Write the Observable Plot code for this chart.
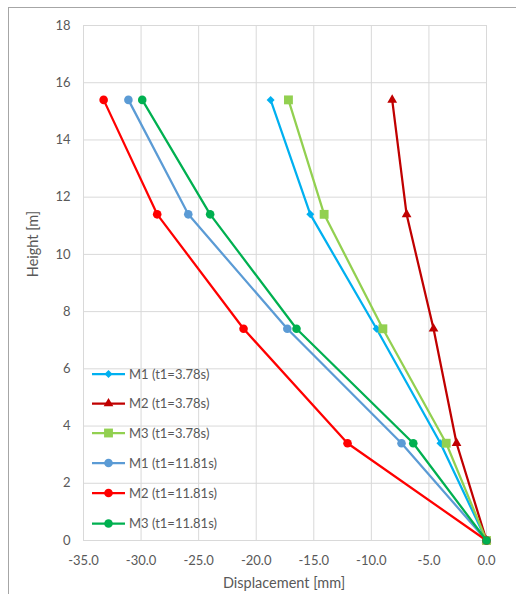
<!DOCTYPE html>
<html>
<head>
<meta charset="utf-8">
<script src="https://cdn.jsdelivr.net/npm/d3@7"></script>
<script src="https://cdn.jsdelivr.net/npm/@observablehq/plot@0.6"></script>
<style>
  html, body { margin: 0; padding: 0; background: #fff; }
  #chart { position: relative; width: 516px; height: 594px; }
  #chart svg { display: block; }
  #frame {
    position: absolute; left: 8px; top: 7px; width: 508px; height: 587px;
    border-top: 1px solid #a6a6a6; border-left: 1px solid #a6a6a6;
    box-sizing: border-box; pointer-events: none;
  }
</style>
</head>
<body>
<div id="chart"><div id="frame"></div></div>
<script>
// Storey heights [m] at which displacements were recorded
const heights = [0, 3.4, 7.4, 11.4, 15.4];

// Displacement profiles [mm] for each model and time instant
const m1_t378 = [0, -4.0, -9.55, -15.3, -18.75];
const m2_t378 = [0, -2.6, -4.6, -6.94, -8.19];
const m3_t378 = [0, -3.5, -9.0, -14.1, -17.2];
const m1_t1181 = [0, -7.38, -17.3, -25.9, -31.1];
const m2_t1181 = [0, -12.07, -21.1, -28.6, -33.25];
const m3_t1181 = [0, -6.36, -16.5, -24.0, -29.9];

const seriesNames = [
  "M1 (t1=3.78s)", "M2 (t1=3.78s)", "M3 (t1=3.78s)",
  "M1 (t1=11.81s)", "M2 (t1=11.81s)", "M3 (t1=11.81s)"
];
const seriesValues = [m1_t378, m2_t378, m3_t378, m1_t1181, m2_t1181, m3_t1181];

const xTicks = [-35, -30, -25, -20, -15, -10, -5, 0];
const yTicks = [0, 2, 4, 6, 8, 10, 12, 14, 16, 18];

// Styling per series
const seriesColors = ["#00b0f0", "#c00000", "#92d050", "#5b9bd5", "#ff0000", "#00b050"];
const seriesSymbols = ["diamond2", "triangle", "square", "circle", "circle", "circle"];
const seriesRadius = [3.6, 3.6, 5, 4.3, 4.3, 4.3];

const rows = seriesNames.flatMap((name, i) =>
  seriesValues[i].map((v, j) => ({ series: name, idx: i, disp: v, height: heights[j] }))
);

const fmtX = d => d.toFixed(1);
const textColor = "#595959";
const font = "Lato, 'Open Sans', sans-serif";

const seriesMarks = seriesNames.flatMap((name, i) => {
  const data = rows.filter(r => r.idx === i);
  return [
    Plot.line(data, { x: "disp", y: "height", stroke: seriesColors[i], strokeWidth: 2.25 }),
    Plot.dot(data, { x: "disp", y: "height", symbol: () => seriesSymbols[i], fill: seriesColors[i], stroke: "none", r: seriesRadius[i] })
  ];
});

const chart = Plot.plot({
  width: 516,
  height: 594,
  marginLeft: 83,
  marginRight: 30,
  marginTop: 25,
  marginBottom: 54,
  style: { fontFamily: font, fontSize: "13px", color: textColor, background: "#fff" },
  x: { domain: [-35, 0] },
  y: { domain: [0, 18] },
  marks: [
    Plot.gridX(xTicks, { stroke: "#d9d9d9", strokeOpacity: 1 }),
    Plot.gridY(yTicks, { stroke: "#d9d9d9", strokeOpacity: 1 }),
    Plot.axisX(xTicks, { tickSize: 0, tickPadding: 15, tickFormat: fmtX, label: null, fill: textColor }),
    Plot.axisY(yTicks, { tickSize: 0, tickPadding: 13, label: null, fill: textColor }),
    ...seriesMarks
  ]
});

document.getElementById("chart").prepend(chart);

// Axis titles and legend
const svg = d3.select(chart);

svg.append("text")
  .attr("x", 284).attr("y", 588)
  .attr("text-anchor", "middle")
  .attr("fill", textColor)
  .style("font-family", font).style("font-size", "14.5px")
  .text("Displacement [mm]");

svg.append("text")
  .attr("transform", "translate(38,244) rotate(-90)")
  .attr("text-anchor", "middle")
  .attr("fill", textColor)
  .style("font-family", font).style("font-size", "14.5px")
  .text("Height [m]");

const symbolTypes = {
  diamond2: d3.symbolDiamond2,
  triangle: d3.symbolTriangle,
  square: d3.symbolSquare,
  circle: d3.symbolCircle
};
const legendRows = [374, 403.5, 433, 463, 493, 523.5];
const legend = svg.append("g");
seriesNames.forEach((name, i) => {
  const g = legend.append("g").attr("transform", `translate(92,${legendRows[i]})`);
  g.append("path")
    .attr("d", "M0,0H33")
    .attr("fill", "none")
    .attr("stroke", seriesColors[i]).attr("stroke-width", 2.25);
  const r = seriesRadius[i];
  g.append("path")
    .attr("transform", "translate(16.5,0)")
    .attr("d", d3.symbol(symbolTypes[seriesSymbols[i]], Math.PI * r * r)())
    .attr("fill", seriesColors[i]);
  g.append("text")
    .attr("x", 37).attr("y", 0).attr("dy", "0.35em")
    .attr("text-anchor", "start")
    .attr("fill", textColor)
    .style("font-family", font).style("font-size", "13px")
    .text(name);
});
</script>
</body>
</html>
